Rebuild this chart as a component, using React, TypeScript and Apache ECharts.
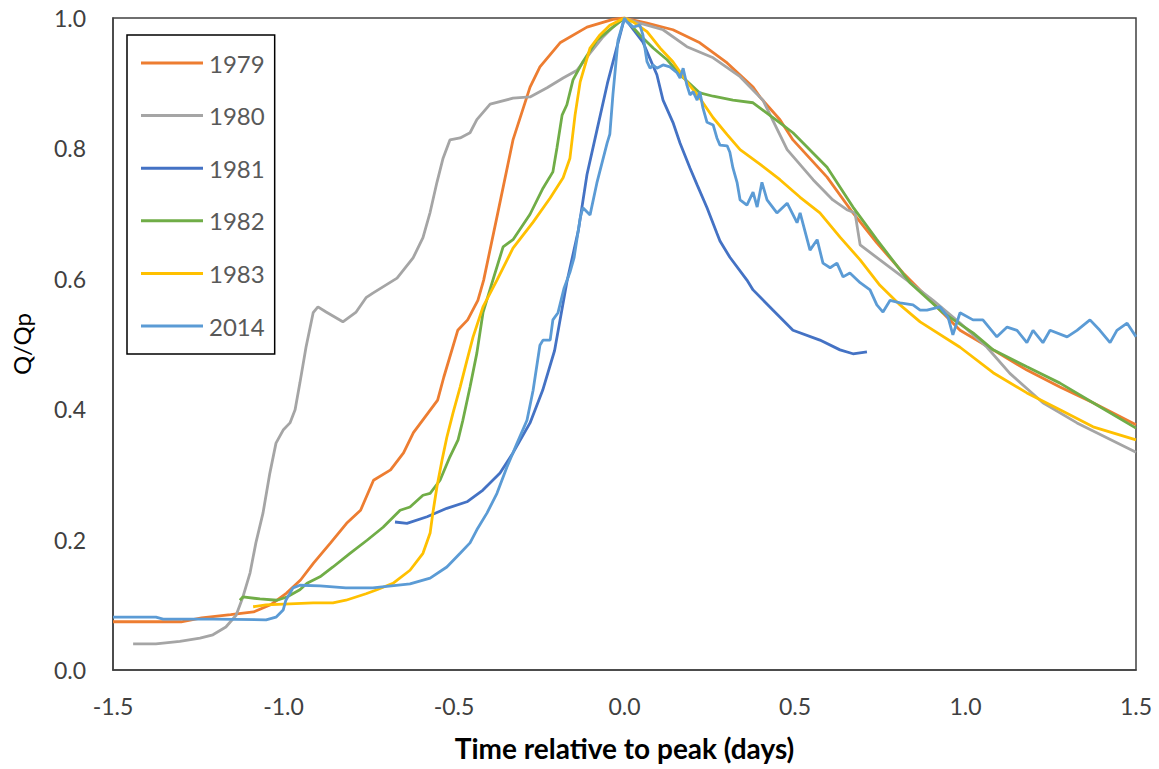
import React, { useEffect, useRef } from "react";
import * as echarts from "echarts";

const seriesNames = ["1979", "1980", "1981", "1982", "1983", "2014"];
const seriesColors = ["#ED7D31", "#A5A5A5", "#4472C4", "#70AD47", "#FFC000", "#5B9BD5"];
const xTickValues = [-1.5, -1.0, -0.5, 0.0, 0.5, 1.0, 1.5];
const yTickValues = [0.0, 0.2, 0.4, 0.6, 0.8, 1.0];

const data1979: number[][] = [
  [-1.5, 0.074], [-1.3, 0.074], [-1.24, 0.08], [-1.155, 0.085], [-1.088, 0.089], [-1.038, 0.1],
  [-0.991, 0.118], [-0.95, 0.138], [-0.912, 0.164], [-0.862, 0.195], [-0.815, 0.225], [-0.774, 0.245],
  [-0.736, 0.291], [-0.686, 0.307], [-0.648, 0.333], [-0.619, 0.364], [-0.548, 0.414], [-0.53, 0.449],
  [-0.489, 0.521], [-0.46, 0.537], [-0.43, 0.567], [-0.413, 0.598], [-0.374, 0.695], [-0.327, 0.813],
  [-0.277, 0.894], [-0.248, 0.925], [-0.189, 0.962], [-0.11, 0.986], [-0.034, 0.998], [0, 1.0],
  [0.066, 0.992], [0.142, 0.982], [0.221, 0.962], [0.301, 0.931], [0.377, 0.894], [0.397, 0.879],
  [0.456, 0.844], [0.494, 0.813], [0.594, 0.756], [0.67, 0.701], [0.74, 0.655], [0.817, 0.609],
  [0.887, 0.572], [0.984, 0.521], [1.081, 0.491], [1.18, 0.46], [1.277, 0.434], [1.374, 0.41], [1.5, 0.376],
];

const data1980: number[][] = [
  [-1.441, 0.04], [-1.374, 0.04], [-1.304, 0.044], [-1.245, 0.049], [-1.207, 0.054], [-1.169, 0.066],
  [-1.139, 0.084], [-1.119, 0.112], [-1.098, 0.149], [-1.081, 0.195], [-1.06, 0.241], [-1.04, 0.302],
  [-1.022, 0.348], [-1.001, 0.368], [-0.981, 0.379], [-0.966, 0.399], [-0.952, 0.44], [-0.934, 0.495],
  [-0.913, 0.548], [-0.899, 0.557], [-0.875, 0.549], [-0.826, 0.534], [-0.787, 0.549], [-0.758, 0.571],
  [-0.738, 0.578], [-0.667, 0.601], [-0.62, 0.632], [-0.591, 0.663], [-0.57, 0.702], [-0.55, 0.748],
  [-0.532, 0.785], [-0.512, 0.813], [-0.482, 0.816], [-0.453, 0.824], [-0.433, 0.844], [-0.394, 0.868],
  [-0.327, 0.877], [-0.277, 0.879], [-0.227, 0.893], [-0.18, 0.908], [-0.139, 0.92], [-0.101, 0.946],
  [-0.063, 0.971], [-0.034, 0.986], [0, 1.0], [0.045, 0.992], [0.113, 0.982], [0.183, 0.956],
  [0.26, 0.939], [0.339, 0.91], [0.406, 0.874], [0.477, 0.798], [0.553, 0.752], [0.611, 0.721],
  [0.652, 0.706], [0.676, 0.701], [0.691, 0.652], [0.749, 0.629], [0.828, 0.598], [0.905, 0.567],
  [0.984, 0.532], [1.063, 0.495], [1.13, 0.455], [1.227, 0.41], [1.327, 0.379], [1.5, 0.334],
];

const data1981: number[][] = [
  [-0.673, 0.227], [-0.638, 0.225], [-0.579, 0.235], [-0.521, 0.248], [-0.462, 0.258], [-0.415, 0.276],
  [-0.365, 0.302], [-0.327, 0.333], [-0.277, 0.379], [-0.24, 0.429], [-0.205, 0.49], [-0.169, 0.595],
  [-0.135, 0.675], [-0.11, 0.76], [-0.08, 0.83], [-0.05, 0.9], [-0.02, 0.96], [0, 1.0],
  [0.054, 0.963], [0.095, 0.913], [0.113, 0.874], [0.142, 0.84], [0.163, 0.808], [0.192, 0.77],
  [0.213, 0.744], [0.242, 0.709], [0.271, 0.67], [0.28, 0.658], [0.309, 0.633], [0.359, 0.598],
  [0.377, 0.583], [0.435, 0.552], [0.494, 0.521], [0.573, 0.506], [0.632, 0.491], [0.67, 0.485], [0.711, 0.488],
];

const data1982: number[][] = [
  [-1.128, 0.107], [-1.119, 0.112], [-1.069, 0.109], [-1.019, 0.107], [-0.99, 0.112], [-0.952, 0.123],
  [-0.931, 0.133], [-0.893, 0.143], [-0.855, 0.158], [-0.805, 0.179], [-0.755, 0.199], [-0.708, 0.219],
  [-0.658, 0.245], [-0.629, 0.25], [-0.591, 0.268], [-0.57, 0.271], [-0.541, 0.291], [-0.512, 0.327],
  [-0.488, 0.353], [-0.474, 0.383], [-0.453, 0.434], [-0.433, 0.486], [-0.415, 0.548], [-0.386, 0.598],
  [-0.356, 0.649], [-0.327, 0.66], [-0.277, 0.699], [-0.239, 0.739], [-0.21, 0.764], [-0.198, 0.801],
  [-0.183, 0.851], [-0.169, 0.867], [-0.151, 0.905], [-0.122, 0.933], [-0.081, 0.966], [-0.034, 0.986],
  [0, 1.0], [0.045, 0.974], [0.084, 0.954], [0.125, 0.936], [0.163, 0.913], [0.221, 0.885],
  [0.26, 0.88], [0.318, 0.874], [0.377, 0.87], [0.456, 0.839], [0.494, 0.824], [0.594, 0.771],
  [0.67, 0.71], [0.74, 0.66], [0.837, 0.594], [0.934, 0.548], [1.022, 0.517], [1.081, 0.491],
  [1.18, 0.465], [1.277, 0.44], [1.374, 0.41], [1.5, 0.371],
];

const data1983: number[][] = [
  [-1.089, 0.097], [-1.051, 0.1], [-0.913, 0.103], [-0.855, 0.103], [-0.817, 0.107], [-0.758, 0.117],
  [-0.726, 0.123], [-0.679, 0.133], [-0.629, 0.153], [-0.591, 0.179], [-0.57, 0.21], [-0.562, 0.241],
  [-0.55, 0.281], [-0.535, 0.322], [-0.521, 0.357], [-0.503, 0.394], [-0.482, 0.434], [-0.462, 0.475],
  [-0.444, 0.511], [-0.415, 0.557], [-0.374, 0.598], [-0.327, 0.647], [-0.268, 0.687], [-0.218, 0.724],
  [-0.18, 0.755], [-0.16, 0.785], [-0.145, 0.851], [-0.13, 0.902], [-0.101, 0.954], [-0.072, 0.974],
  [-0.043, 0.989], [0, 1.0], [0.025, 0.994], [0.066, 0.979], [0.104, 0.954], [0.142, 0.933],
  [0.183, 0.902], [0.221, 0.877], [0.26, 0.847], [0.301, 0.821], [0.339, 0.798], [0.397, 0.776],
  [0.456, 0.752], [0.515, 0.725], [0.573, 0.701], [0.632, 0.664], [0.691, 0.629], [0.749, 0.59],
  [0.808, 0.56], [0.867, 0.534], [0.984, 0.495], [1.081, 0.456], [1.18, 0.425], [1.277, 0.399],
  [1.374, 0.373], [1.5, 0.353],
];

const data2014: number[][] = [
  [-1.5, 0.081], [-1.374, 0.081], [-1.353, 0.078], [-1.207, 0.078], [-1.051, 0.077], [-1.022, 0.081],
  [-1.001, 0.092], [-0.993, 0.107], [-0.972, 0.126], [-0.952, 0.13], [-0.893, 0.129], [-0.817, 0.126],
  [-0.738, 0.126], [-0.629, 0.132], [-0.57, 0.141], [-0.521, 0.158], [-0.482, 0.179], [-0.453, 0.195],
  [-0.433, 0.215], [-0.403, 0.241], [-0.374, 0.271], [-0.345, 0.311], [-0.315, 0.348], [-0.286, 0.383],
  [-0.268, 0.429], [-0.248, 0.498], [-0.239, 0.506], [-0.218, 0.506], [-0.21, 0.537], [-0.195, 0.548],
  [-0.177, 0.586], [-0.16, 0.61], [-0.148, 0.632], [-0.13, 0.693], [-0.122, 0.709], [-0.101, 0.698],
  [-0.081, 0.747], [-0.051, 0.808], [-0.043, 0.822], [-0.034, 0.882], [-0.019, 0.966], [0, 1.0],
  [0.007, 0.994], [0.025, 0.986], [0.045, 0.989], [0.054, 0.974], [0.066, 0.933], [0.075, 0.923],
  [0.084, 0.928], [0.095, 0.923], [0.113, 0.928], [0.133, 0.925], [0.154, 0.916], [0.163, 0.908],
  [0.172, 0.923], [0.183, 0.897], [0.192, 0.882], [0.201, 0.887], [0.213, 0.874], [0.221, 0.887],
  [0.23, 0.862], [0.242, 0.84], [0.26, 0.836], [0.271, 0.816], [0.28, 0.805], [0.301, 0.804],
  [0.309, 0.794], [0.318, 0.77], [0.33, 0.748], [0.339, 0.721], [0.359, 0.713], [0.377, 0.733],
  [0.389, 0.71], [0.403, 0.748], [0.418, 0.721], [0.447, 0.701], [0.477, 0.716], [0.506, 0.686],
  [0.515, 0.701], [0.544, 0.644], [0.565, 0.66], [0.582, 0.624], [0.603, 0.617], [0.623, 0.624],
  [0.641, 0.603], [0.661, 0.609], [0.691, 0.594], [0.72, 0.583], [0.74, 0.56], [0.758, 0.549],
  [0.779, 0.567], [0.808, 0.563], [0.846, 0.56], [0.867, 0.552], [0.887, 0.552], [0.925, 0.557],
  [0.949, 0.541], [0.963, 0.514], [0.984, 0.548], [1.022, 0.537], [1.051, 0.537], [1.092, 0.511],
  [1.122, 0.526], [1.151, 0.521], [1.18, 0.502], [1.198, 0.521], [1.227, 0.502], [1.248, 0.521],
  [1.298, 0.511], [1.327, 0.521], [1.365, 0.537], [1.394, 0.521], [1.424, 0.502], [1.444, 0.521],
  [1.474, 0.532], [1.5, 0.511],
];

const allData = [data1979, data1980, data1981, data1982, data1983, data2014];

export default function App() {
  const ref = useRef<HTMLDivElement>(null);
  useEffect(() => {
    if (!ref.current) return;
    const chart = echarts.init(ref.current, undefined, { renderer: "svg" });
    const font = "Lato, 'Open Sans', sans-serif";
    chart.setOption({
      animation: false,
      backgroundColor: "#ffffff",
      grid: {
        left: 113,
        right: 23,
        top: 18,
        bottom: 99,
        containLabel: false,
        outerBoundsMode: "none",
        show: true,
        borderColor: "#404040",
        borderWidth: 1.5,
      },
      legend: {
        orient: "vertical",
        left: 127,
        top: 35,
        padding: [16, 10, 16, 14],
        itemGap: 28.6,
        itemWidth: 62,
        itemHeight: 3,
        icon: "rect",
        borderColor: "#000000",
        borderWidth: 1.5,
        backgroundColor: "#ffffff",
        data: seriesNames,
        textStyle: { fontFamily: font, fontSize: 24, lineHeight: 24, color: "#595959", padding: [0, 0, 0, 1] },
      },
      xAxis: {
        type: "value",
        min: -1.5,
        max: 1.5,
        interval: 0.5,
        name: "Time relative to peak (days)",
        nameLocation: "middle",
        nameGap: 64,
        nameTextStyle: { fontFamily: font, fontSize: 28, fontWeight: "bold", color: "#000000" },
        axisLine: { show: true, onZero: false, lineStyle: { color: "#404040", width: 1.5 } },
        axisTick: { show: false },
        splitLine: { show: false },
        axisLabel: {
          margin: 24,
          fontFamily: font,
          fontSize: 23,
          color: "#404040",
          formatter: (v: number) => (xTickValues.some((t) => Math.abs(t - v) < 1e-9) ? v.toFixed(1) : ""),
        },
      },
      yAxis: {
        type: "value",
        min: 0,
        max: 1,
        interval: 0.2,
        name: "Q/Qp",
        nameLocation: "middle",
        nameGap: 80,
        nameRotate: 90,
        nameTextStyle: { fontFamily: font, fontSize: 24, color: "#000000" },
        axisLine: { show: true, onZero: false, lineStyle: { color: "#404040", width: 1.5 } },
        axisTick: { show: false },
        splitLine: { show: false },
        axisLabel: {
          margin: 27,
          fontFamily: font,
          fontSize: 23,
          color: "#404040",
          formatter: (v: number) => (yTickValues.some((t) => Math.abs(t - v) < 1e-9) ? v.toFixed(1) : ""),
        },
      },
      series: seriesNames.map((name, i) => ({
        name,
        type: "line",
        data: allData[i],
        showSymbol: false,
        symbol: "none",
        color: seriesColors[i],
        itemStyle: { color: seriesColors[i] },
        lineStyle: { color: seriesColors[i], width: 2.8 },
        z: 2 + i,
      })),
    });
    return () => chart.dispose();
  }, []);
  return (
    <div
      ref={ref}
      style={{ position: "fixed", left: 0, top: 0, width: 1159, height: 769, background: "#fff" }}
    />
  );
}
